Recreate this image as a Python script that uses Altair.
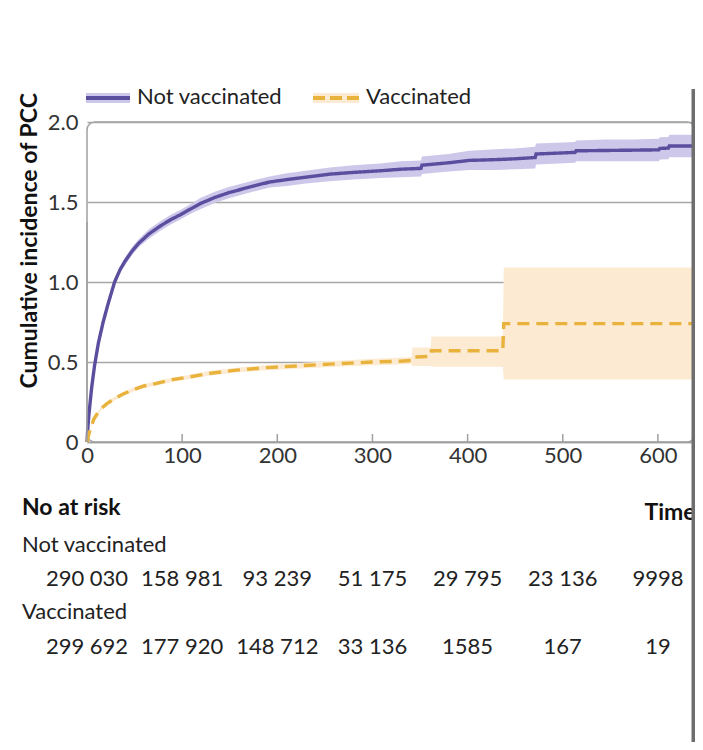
import altair as alt
import pandas as pd

# ---------------- data ----------------
groups = ["Not vaccinated", "Vaccinated"]

time_nv = [0, 1, 2, 3, 5, 8, 12, 17, 22, 29, 35, 40, 47, 54, 65, 77, 88, 98, 110, 119, 135, 150,
           175, 192, 210, 230, 255, 280, 308, 330, 351, 352, 380, 402, 430, 450, 471, 472, 513, 514,
           545, 574, 601, 602, 611, 612, 639]
inc_nv = [0, 0.10, 0.17, 0.23, 0.345, 0.48, 0.62, 0.75, 0.86, 1.00, 1.08, 1.13, 1.19, 1.24, 1.30,
          1.35, 1.39, 1.42, 1.46, 1.49, 1.53, 1.56, 1.60, 1.625, 1.64, 1.655, 1.674, 1.685, 1.695,
          1.705, 1.71, 1.73, 1.745, 1.76, 1.765, 1.77, 1.778, 1.80, 1.81, 1.82, 1.822, 1.824, 1.826,
          1.835, 1.837, 1.85, 1.85]
lo_nv = [0, 0.09, 0.155, 0.215, 0.33, 0.465, 0.60, 0.73, 0.84, 0.98, 1.06, 1.105, 1.165, 1.215,
         1.27, 1.32, 1.36, 1.39, 1.43, 1.455, 1.495, 1.525, 1.565, 1.59, 1.60, 1.615, 1.63, 1.64,
         1.65, 1.655, 1.66, 1.675, 1.69, 1.70, 1.70, 1.705, 1.71, 1.735, 1.745, 1.755, 1.755, 1.755,
         1.755, 1.765, 1.767, 1.78, 1.78]
hi_nv = [0, 0.11, 0.185, 0.245, 0.36, 0.495, 0.64, 0.77, 0.88, 1.02, 1.10, 1.155, 1.215, 1.265,
         1.33, 1.38, 1.42, 1.45, 1.49, 1.525, 1.565, 1.595, 1.635, 1.66, 1.68, 1.695, 1.715, 1.73,
         1.74, 1.755, 1.76, 1.785, 1.80, 1.82, 1.83, 1.835, 1.845, 1.865, 1.875, 1.885, 1.89, 1.89,
         1.895, 1.905, 1.907, 1.92, 1.92]

time_v = [0, 2, 4, 7, 10, 15, 21, 30, 38, 50, 60, 73, 90, 108, 130, 157, 189, 220, 255, 276, 300,
          329, 341, 342, 361, 362, 437, 438, 639]
inc_v = [0, 0.05, 0.09, 0.14, 0.17, 0.21, 0.24, 0.275, 0.30, 0.33, 0.35, 0.366, 0.39, 0.407, 0.43,
         0.449, 0.465, 0.475, 0.487, 0.493, 0.50, 0.505, 0.51, 0.53, 0.535, 0.57, 0.57, 0.74, 0.74]
lo_v = [0, 0.045, 0.083, 0.13, 0.16, 0.20, 0.23, 0.263, 0.288, 0.317, 0.337, 0.353, 0.377, 0.393,
        0.415, 0.434, 0.449, 0.458, 0.469, 0.474, 0.48, 0.484, 0.488, 0.475, 0.475, 0.47, 0.47,
        0.39, 0.39]
hi_v = [0, 0.055, 0.097, 0.15, 0.18, 0.22, 0.25, 0.287, 0.312, 0.343, 0.363, 0.379, 0.403, 0.421,
        0.445, 0.464, 0.481, 0.492, 0.505, 0.512, 0.52, 0.526, 0.532, 0.59, 0.59, 0.66, 0.66,
        1.09, 1.09]

x_ticks = [0, 100, 200, 300, 400, 500, 600]
y_ticks = [0, 0.5, 1.0, 1.5, 2.0]
risk_not_vacc = [290030, 158981, 93239, 51175, 29795, 23136, 9998]
risk_vacc = [299692, 177920, 148712, 33136, 1585, 167, 19]
risk_labels = ["No at risk", "Not vaccinated", "Vaccinated"]

# ---------------- styling ----------------
PURPLE = "#5a4e9f"
PURPLE_BAND = "#cdc7ea"
YELLOW = "#e8b23c"
YELLOW_BAND = "#fcebd2"
FONT = "Lato"
FS = 22
FS_B = 23


def fmt(n):
    return f"{n:,}".replace(",", " ") if n >= 10000 else str(n)


df = pd.concat([
    pd.DataFrame({"group": groups[0], "t": time_nv, "v": inc_nv, "lo": lo_nv, "hi": hi_nv}),
    pd.DataFrame({"group": groups[1], "t": time_v, "v": inc_v, "lo": lo_v, "hi": hi_v}),
], ignore_index=True)

xscale = alt.Scale(domain=[0, 639], nice=False, zero=False)
yscale = alt.Scale(domain=[0, 2], nice=False)

x_enc = alt.X("t:Q", scale=xscale, axis=alt.Axis(
    values=x_ticks, title="Time", grid=False, ticks=False, domain=True, domainColor="#a0a0a0",
    domainWidth=1.5, labelFontSize=FS, labelColor="#333333", labelPadding=3, labelFlush=False,
    titleFontSize=FS_B, titleFontWeight="bold", titleColor="#111111", titleAlign="left",
    titleAnchor="start", titleX=557, titleY=70, titleBaseline="middle"))
y_enc = alt.Y("v:Q", scale=yscale, axis=alt.Axis(
    values=y_ticks, title="Cumulative incidence of PCC", grid=True, gridColor="#a6a6a6",
    gridWidth=1.5, ticks=False, domain=False, labelFontSize=FS, labelColor="#333333",
    labelPadding=9, labelExpr="datum.value == 0 ? '0' : format(datum.value, '.1f')",
    titleFontSize=FS_B, titleFontWeight="bold", titleColor="#111111", titleAngle=270,
    titleAlign="left", titleX=-58, titleY=266, titleBaseline="middle"))

color_scale = alt.Scale(domain=groups, range=[PURPLE, YELLOW])
band_scale = alt.Scale(domain=groups, range=[PURPLE_BAND, YELLOW_BAND])
dash_scale = alt.Scale(domain=groups, range=[[1, 0], [12, 7]])

base = alt.Chart(df)

bands = base.mark_area(opacity=1).encode(
    x=x_enc, y=alt.Y("lo:Q", scale=yscale), y2="hi:Q",
    fill=alt.Fill("group:N", scale=band_scale, legend=None),
    detail="group:N",
)

lines = base.mark_line(strokeWidth=3.4).encode(
    x="t:Q", y=y_enc,
    color=alt.Color("group:N", scale=color_scale, legend=None),
    strokeDash=alt.StrokeDash("group:N", scale=dash_scale, legend=None),
)

tick_df = pd.DataFrame({"t": x_ticks[1:]})
ticks = alt.Chart(tick_df).mark_rule(color="#a0a0a0", strokeWidth=1.5).encode(
    x="t:Q", y=alt.value(320), y2=alt.value(312))

one = pd.DataFrame({"k": [0]})
left_edge = alt.Chart(one).mark_rule(color="#a0a0a0", strokeWidth=1.5).encode(
    x=alt.value(0), y=alt.value(100), y2=alt.value(320))

# ---- legend (drawn by hand to reproduce the halo around the keys) ----
leg_nv_halo = alt.Chart(one).mark_rule(color=PURPLE_BAND, strokeWidth=10).encode(
    x=alt.value(-1), x2=alt.value(43), y=alt.value(-24))
leg_nv_line = alt.Chart(one).mark_rule(color=PURPLE, strokeWidth=4).encode(
    x=alt.value(-1), x2=alt.value(43), y=alt.value(-24))
leg_v_halo = alt.Chart(one).mark_rule(color=YELLOW_BAND, strokeWidth=10).encode(
    x=alt.value(226), x2=alt.value(272), y=alt.value(-24))
leg_v_line = alt.Chart(one).mark_rule(color=YELLOW, strokeWidth=4, strokeDash=[12, 5]).encode(
    x=alt.value(226), x2=alt.value(272), y=alt.value(-24))
leg_txt_nv = alt.Chart(pd.DataFrame({"label": [groups[0]]})).mark_text(
    fontSize=FS, color="#222222", align="left", baseline="middle").encode(
    x=alt.value(50), y=alt.value(-25), text="label:N")
leg_txt_v = alt.Chart(pd.DataFrame({"label": [groups[1]]})).mark_text(
    fontSize=FS, color="#222222", align="left", baseline="middle").encode(
    x=alt.value(279), y=alt.value(-25), text="label:N")

risk_df = pd.DataFrame({
    "t": x_ticks * 2,
    "label": [fmt(n) for n in risk_not_vacc] + [fmt(n) for n in risk_vacc],
    "row": ["nv"] * 7 + ["v"] * 7,
})
risk_nv = alt.Chart(risk_df[risk_df.row == "nv"]).mark_text(
    fontSize=FS, color="#222222", align="center", baseline="middle").encode(
    x="t:Q", y=alt.value(457), text="label:N")
risk_v = alt.Chart(risk_df[risk_df.row == "v"]).mark_text(
    fontSize=FS, color="#222222", align="center", baseline="middle").encode(
    x="t:Q", y=alt.value(525), text="label:N")

hdr = alt.Chart(pd.DataFrame({"label": [risk_labels[0]]})).mark_text(
    fontSize=FS_B, fontWeight="bold", color="#111111", align="left", baseline="middle").encode(
    x=alt.value(-65), y=alt.value(386), text="label:N")
row1 = alt.Chart(pd.DataFrame({"label": [risk_labels[1]]})).mark_text(
    fontSize=FS, color="#222222", align="left", baseline="middle").encode(
    x=alt.value(-65), y=alt.value(423), text="label:N")
row2 = alt.Chart(pd.DataFrame({"label": [risk_labels[2]]})).mark_text(
    fontSize=FS, color="#222222", align="left", baseline="middle").encode(
    x=alt.value(-65), y=alt.value(490), text="label:N")

bar = alt.Chart(one).mark_rule(color="#6e6e6e", strokeWidth=5).encode(
    x=alt.value(607), y=alt.value(-33), y2=alt.value(620))

chart = alt.layer(
    bands, lines, ticks, left_edge,
    leg_nv_halo, leg_nv_line, leg_v_halo, leg_v_line, leg_txt_nv, leg_txt_v,
    risk_nv, risk_v, hdr, row1, row2, bar,
).properties(
    width=608, height=320,
    autosize=alt.AutoSizeParams(type="none"),
    padding={"left": 79, "top": 114, "right": 0, "bottom": 300},
).configure(font=FONT, background="white").configure_view(
    stroke="#a0a0a0", strokeWidth=1.5, cornerRadius=8
)

chart.save("out.html", embed_options={"renderer": "svg", "actions": False})
